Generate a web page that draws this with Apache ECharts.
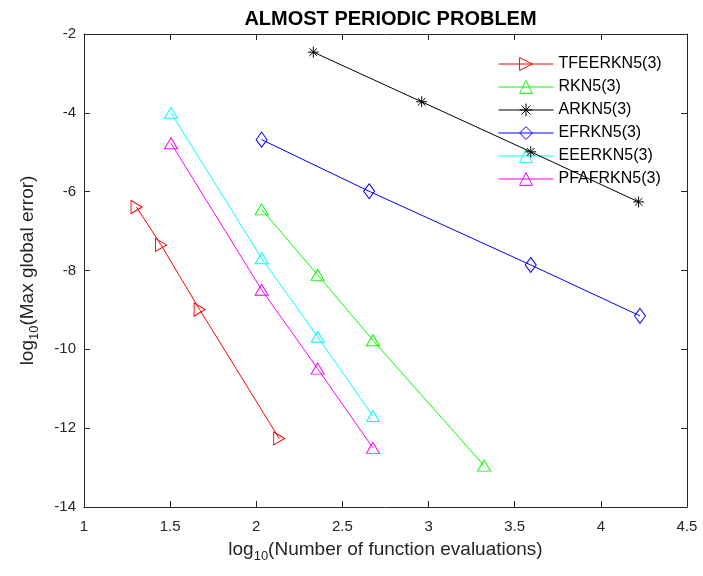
<!DOCTYPE html>
<html>
<head>
<meta charset="utf-8">
<script src="https://cdn.jsdelivr.net/npm/echarts@6/dist/echarts.min.js"></script>
<style>
  html, body { margin: 0; padding: 0; background: #fff; }
  #chart { width: 703px; height: 576px; }
</style>
</head>
<body>
<div id="chart"></div>
<script>
// ---- data (log10 values) ----
const seriesNames = ['TFEERKN5(3)', 'RKN5(3)', 'ARKN5(3)', 'EFRKN5(3)', 'EEERKN5(3)', 'PFAFRKN5(3)'];
const xTFEE = [1.305, 1.447, 1.671, 2.133];
const yTFEE = [-6.39, -7.35, -8.99, -12.26];
const xRKN  = [2.031, 2.356, 2.677, 3.322];
const yRKN  = [-6.45, -8.11, -9.77, -12.95];
const xARKN = [2.331, 2.960, 3.593, 4.219];
const yARKN = [-2.46, -3.72, -4.99, -6.26];
const xEF   = [2.031, 2.655, 3.593, 4.227];
const yEF   = [-4.68, -5.99, -7.86, -9.15];
const xEEE  = [1.505, 2.031, 2.356, 2.677];
const yEEE  = [-4.00, -7.69, -9.68, -11.69];
const xPFAF = [1.505, 2.031, 2.356, 2.677];
const yPFAF = [-4.77, -8.49, -10.49, -12.50];
const xTicks = [1, 1.5, 2, 2.5, 3, 3.5, 4, 4.5];
const yTicks = [-14, -12, -10, -8, -6, -4, -2];

const colors = ['#ff0000', '#00ff00', '#000000', '#0000ff', '#00ffff', '#ff00ff'];
const xs = [xTFEE, xRKN, xARKN, xEF, xEEE, xPFAF];
const ys = [yTFEE, yRKN, yARKN, yEF, yEEE, yPFAF];
const symbols = [
  'path://M0,0L10,5L0,10Z',
  'triangle',
  'path://M5,0L5,10M0,5L10,5M1.5,1.5L8.5,8.5M1.5,8.5L8.5,1.5',
  'diamond',
  'triangle',
  'triangle'
];
const symbolSizes = [[11, 13], [13, 11], [11, 11], [11, 15], [13, 11], [13, 11]];

const FONT = "'Liberation Sans', Arial, Helvetica, sans-serif";
const AX = '#262626';

const chart = echarts.init(document.getElementById('chart'), null, { renderer: 'canvas' });

const series = seriesNames.map((name, i) => ({
  name: name,
  type: 'line',
  data: xs[i].map((x, j) => [x, ys[i][j]]),
  symbol: symbols[i],
  symbolSize: symbolSizes[i],
  showAllSymbol: true,
  lineStyle: { color: colors[i], width: 1 },
  itemStyle: { color: 'rgba(0,0,0,0)', borderColor: colors[i], borderWidth: 1 },
  emphasis: { disabled: true },
  z: 2 + i
}));

const axisCommon = {
  axisLine: { show: true, lineStyle: { color: AX, width: 1 } },
  axisTick: { show: true, inside: true, length: 6, lineStyle: { color: AX } },
  splitLine: { show: false }
};

const nameRich = {
  a: { fontFamily: FONT, fontSize: 19, color: AX, lineHeight: 19, verticalAlign: 'top' },
  s: { fontFamily: FONT, fontSize: 13, color: AX, lineHeight: 23, verticalAlign: 'bottom' }
};

chart.setOption({
  animation: false,
  backgroundColor: '#ffffff',
  title: {
    text: 'ALMOST PERIODIC PROBLEM',
    left: 385.5,
    textAlign: 'center',
    top: 4,
    textStyle: { fontFamily: FONT, fontSize: 20, fontWeight: 'bold', color: '#000' }
  },
  grid: { left: 84, right: 16, top: 34, bottom: 69, containLabel: false },
  legend: {
    orient: 'vertical',
    left: 493,
    top: 51,
    itemWidth: 55,
    itemHeight: 16,
    itemGap: 7,
    data: seriesNames,
    lineStyle: { width: 1 },
    itemStyle: { borderWidth: 1 },
    textStyle: { fontFamily: FONT, fontSize: 16, color: '#000', lineHeight: 16 },
    selectedMode: false
  },
  xAxis: [
    Object.assign({
      type: 'value', position: 'bottom',
      min: xTicks[0], max: xTicks[xTicks.length - 1], interval: 0.5,
      axisLabel: { fontFamily: FONT, fontSize: 15, color: AX, margin: 12 },
      name: '{a|log}{s|10}{a|(Number of function evaluations)}',
      nameLocation: 'middle',
      nameGap: 33,
      nameTextStyle: { rich: nameRich }
    }, axisCommon),
    Object.assign({
      type: 'value', position: 'top',
      min: xTicks[0], max: xTicks[xTicks.length - 1], interval: 0.5,
      axisLabel: { show: false }
    }, axisCommon)
  ],
  yAxis: [
    Object.assign({
      type: 'value', position: 'left',
      min: yTicks[0], max: yTicks[yTicks.length - 1], interval: 2,
      axisLabel: { fontFamily: FONT, fontSize: 15, color: AX, margin: 8 },
      name: '{a|log}{s|10}{a|(Max global error)}',
      nameLocation: 'middle',
      nameGap: 43,
      nameRotate: 90,
      nameTextStyle: { rich: nameRich }
    }, axisCommon),
    Object.assign({
      type: 'value', position: 'right',
      min: yTicks[0], max: yTicks[yTicks.length - 1], interval: 2,
      axisLabel: { show: false }
    }, axisCommon)
  ],
  series: series
});
</script>
</body>
</html>
